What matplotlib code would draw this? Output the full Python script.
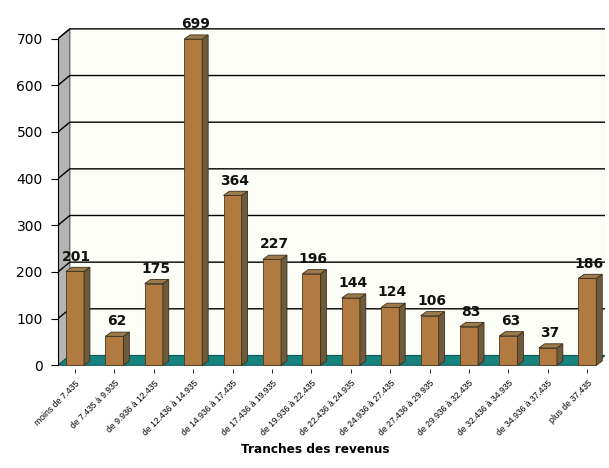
import matplotlib as mpl

mpl.use("Agg")
import matplotlib.pyplot as plt
from matplotlib.patches import Polygon

categories = [
    "moins de 7.435", "de 7.435 à 9.935", "de 9.936 à 12.435", "de 12.436 à 14.935",
    "de 14.936 à 17.435", "de 17.436 à 19.935", "de 19.936 à 22.435", "de 22.436 à 24.935",
    "de 24.936 à 27.435", "de 27.436 à 29.935", "de 29.936 à 32.435", "de 32.436 à 34.935",
    "de 34.936 à 37.435", "plus de 37.435",
]
values = [201, 62, 175, 699, 364, 227, 196, 144, 124, 106, 83, 63, 37, 186]
yticks = [0, 100, 200, 300, 400, 500, 600, 700]
xlabel = "Tranches des revenus"

FRONT = "#b07a40"
SIDE = "#6e5b3c"
TOP = "#9c7a4c"
WALL = "#b4b4b4"
FLOOR = "#17837f"
BACK = "#fdfdf8"

fig = plt.figure(figsize=(6.09, 4.68), dpi=100)
fig.patch.set_facecolor("white")
ax = fig.add_axes([58 / 609, 99 / 468, 547 / 609, 349 / 468])
x0, x1 = -0.43, 13.45
ax.set_xlim(x0, x1)
ax.set_ylim(-8, 740)
ax.set_facecolor("white")

# depth of walls / bars in data units
wdx, wdy = 0.30, 21
bdx, bdy = 0.15, 9

# back wall, left wall and floor
ax.add_patch(Polygon([(x0 + wdx, wdy), (x1, wdy), (x1, 700 + wdy), (x0 + wdx, 700 + wdy)],
                     closed=True, fc=BACK, ec="none", zorder=0.5))
ax.add_patch(Polygon([(x0, 0), (x0 + wdx, wdy), (x0 + wdx, 700 + wdy), (x0, 700)],
                     closed=True, fc=WALL, ec="#555555", lw=0.8, zorder=1))
ax.add_patch(Polygon([(x0, 0), (x1 - wdx, 0), (x1, wdy), (x0 + wdx, wdy)],
                     closed=True, fc=FLOOR, ec="#0d5b58", lw=0.8, zorder=2))

# gridlines on back wall
for v in yticks[1:]:
    ax.plot([x0, x0 + wdx, x1], [v, v + wdy, v + wdy], color="black", lw=1.0, zorder=1.5)

# bars with pseudo 3D faces
w = 0.46
xs = list(range(len(values)))
ax.bar(xs, values, width=w, color=FRONT, edgecolor="#4a3a22", lw=0.6, zorder=3)
for x, v in zip(xs, values):
    r = x + w / 2
    l = x - w / 2
    ax.add_patch(Polygon([(r, 0), (r + bdx, bdy), (r + bdx, v + bdy), (r, v)],
                         closed=True, fc=SIDE, ec="#3a2e1b", lw=0.6, zorder=3))
    ax.add_patch(Polygon([(l, v), (r, v), (r + bdx, v + bdy), (l + bdx, v + bdy)],
                         closed=True, fc=TOP, ec="#3a2e1b", lw=0.6, zorder=3))
    ax.text(x + 0.05, v + bdy + 8, str(v), ha="center", va="bottom",
            fontsize=10, fontweight="bold", color="#111111", zorder=4)

ax.set_yticks(yticks)
ax.set_yticklabels([str(v) for v in yticks], fontsize=10)
ax.set_xticks(xs)
ax.set_xticklabels(categories, rotation=45, ha="right", rotation_mode="anchor",
                   fontsize=6.2, family="Liberation Sans")
ax.tick_params(axis="y", length=5, width=0.8, pad=6)
ax.tick_params(axis="x", length=3, width=0.6, pad=4)
ax.set_xlabel(xlabel, fontsize=8.7, fontweight="bold")
ax.xaxis.set_label_coords(0.47, -0.212)
for s in ["top", "right", "bottom"]:
    ax.spines[s].set_visible(False)
ax.spines["left"].set_bounds(0, 700)
ax.spines["left"].set_linewidth(0.8)

fig.savefig("out.png", dpi=100)
